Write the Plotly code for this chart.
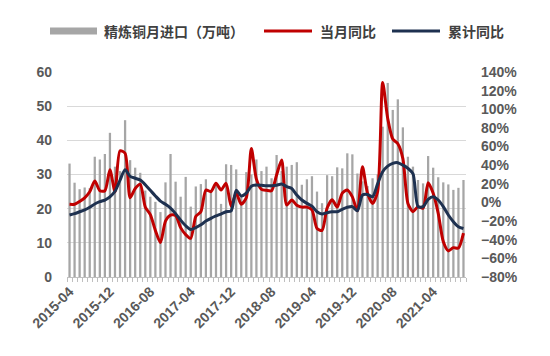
import plotly.graph_objects as go
import pandas as pd

months = [p.strftime("%Y-%m") for p in pd.period_range("2015-04", periods=79, freq="M")]

imports_wt = [
    33.2, 27.6, 25.7, 26.2, 26.0, 35.2, 34.4, 36.0, 42.2,
    32.3, 31.0, 45.9, 34.2, 32.0, 30.5, 25.3, 23.5, 22.0, 19.0, 27.7, 36.0,
    27.9, 23.5, 29.3, 20.6, 26.5, 27.2, 28.6, 25.5, 26.7, 21.4, 33.0, 32.8,
    31.5, 24.0, 30.7, 30.0, 34.4, 31.0, 32.3, 28.9, 35.7, 31.0, 32.3, 32.8,
    33.6, 27.0, 28.6, 29.5, 25.0, 21.6, 29.8, 29.5, 32.1, 31.8, 36.2, 35.9,
    30.3, 28.0, 26.6, 28.9, 30.0, 44.0, 56.8, 48.9, 52.0, 43.8, 35.2, 32.3,
    28.4, 27.4, 35.4, 32.0, 29.2, 27.7, 27.1, 25.5, 26.1, 28.4,
]

monthly_yoy = [
    -2, -2, 1, 5, 11.5, 23, 12.6, 12.6, 35,
    11.5, 55.5, 52.8, 5, 15, 19.5, -5, -13, -30, -43, -20, -13.5,
    -14, -27, -34.5, -38.5, -15, -10, 13.4, 11.6, 20.5, 13.4, 20.5, -4,
    10, -2, 5, 58, 25, 14, 13, 12.6, 29.5, 45.6, -2.7, 2.6,
    -3, -5, -5, -8, -28, -30, -6, 3, -5, 10, 13.4, 6,
    -9, 38.4, 9.8, -1, 11.6, 128.6, 90, 68, 63, 47, -1, -9.9,
    -4.5, -6.3, 21.2, 9.8, -11.7, -42, -52, -48.5, -49, -33,
]

cumulative_yoy = [
    -13.5, -12, -10, -8, -5.2, -1.7, 0.8, 2.6, 6,
    12, 24, 35, 28, 26, 24, 19, 13, 7, 1.5, -2, -6,
    -12, -19, -25, -29, -27, -24, -20, -17, -14.5, -12.4, -10, -9,
    13, 7, 10, 17.5, 18.7, 18.4, 18, 18, 18.5, 19.8, 17, 15,
    8, 2.6, -1, -4, -10, -12.4, -11, -10, -10, -7.4, -5.2, -4.5,
    -9, 8, 8.5, 6, 20, 33, 39, 42, 42.7, 40, 36.6, 31,
    -4.5, -4.5, 3.3, 6.2, 2.6, -4.5, -13.5, -20.6, -26, -28,
]

tick_labels = ["2015-04", "2015-12", "2016-08", "2017-04", "2017-12",
               "2018-08", "2019-04", "2019-12", "2020-08", "2021-04"]

series_names = ["精炼铜月进口（万吨）", "当月同比", "累计同比"]

GRAY = "#A6A6A6"
RED = "#C00000"
NAVY = "#1E3150"
TXT = "#404040"
FONT = "Liberation Sans, Noto Sans CJK SC, sans-serif"

fig = go.Figure()
fig.add_trace(go.Bar(x=months, y=imports_wt, marker_color=GRAY, marker_line_width=0,
                     name=series_names[0], showlegend=False))
fig.add_trace(go.Scatter(x=months, y=monthly_yoy, mode="lines", yaxis="y2",
                         line=dict(color=RED, width=3, shape="spline", smoothing=0.7),
                         name=series_names[1], showlegend=False))
fig.add_trace(go.Scatter(x=months, y=cumulative_yoy, mode="lines", yaxis="y2",
                         line=dict(color=NAVY, width=3, shape="spline", smoothing=0.7),
                         name=series_names[2], showlegend=False))

ticktext = [m if m in tick_labels else "" for m in months]

fig.update_layout(
    width=550, height=356,
    margin=dict(l=67, r=84, t=72, b=79),
    paper_bgcolor="white", plot_bgcolor="white",
    bargap=0.55,
    font=dict(family=FONT, size=14, color=TXT),
    xaxis=dict(type="category", tickmode="array", tickvals=months, ticktext=ticktext,
               tickangle=-45, tickson="boundaries", ticks="outside", ticklen=4,
               tickcolor="#BFBFBF", showline=True, linecolor="#BFBFBF", linewidth=1,
               showgrid=False, automargin=False,
               tickfont=dict(size=14, color="#595959", family=FONT, weight="bold")),
    yaxis=dict(range=[0, 60], dtick=10, showgrid=True, gridcolor="#D9D9D9", gridwidth=1,
               zeroline=False, showline=False, ticks="", ticklabelstandoff=14, automargin=False,
               tickfont=dict(size=14, color="#595959", family=FONT, weight="bold")),
    yaxis2=dict(range=[-80, 140], dtick=20, overlaying="y", side="right", showgrid=False,
                zeroline=False, showline=False, ticks="", ticksuffix="%", ticklabelstandoff=14,
                automargin=False,
                tickfont=dict(size=14, color="#595959", family=FONT, weight="bold")),
)

# manual legend
legend_items = [
    (series_names[0], GRAY, 7, 50, 97, 102),
    (series_names[1], RED, 3, 264, 312, 318),
    (series_names[2], NAVY, 3, 392, 440, 446),
]
for name, color, w, x0, x1, tx in legend_items:
    fig.add_shape(type="line", xref="paper", yref="paper",
                  x0=(x0 - 67) / 399, x1=(x1 - 67) / 399,
                  y0=(277 - 31) / 205, y1=(277 - 31) / 205,
                  line=dict(color=color, width=w))
    fig.add_annotation(text=name, xref="paper", yref="paper",
                       x=(tx - 67) / 399, y=(277 - 31) / 205,
                       xanchor="left", yanchor="middle", showarrow=False,
                       font=dict(family="Noto Sans CJK SC, sans-serif", size=14,
                                 color=TXT, weight="bold"))

fig.write_html("out.html", config={"displayModeBar": False},
               post_script="document.body.style.margin='0';")
